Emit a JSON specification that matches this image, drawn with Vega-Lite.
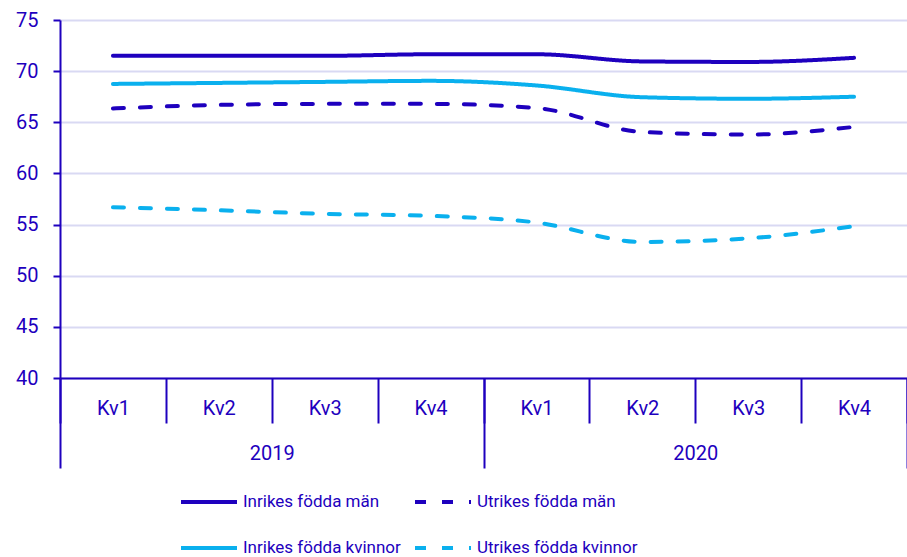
{
  "$schema": "https://vega.github.io/schema/vega-lite/v6.json",
  "width": 847,
  "height": 358,
  "autosize": {"type": "none"},
  "padding": {"left": 60, "top": 20, "right": 0, "bottom": 179},
  "config": {
    "font": "Roboto",
    "view": {"stroke": null},
    "axis": {"labelColor": "#1E00BE", "labelFont": "Roboto", "labelFontSize": 20, "titleColor": "#1E00BE"},
    "legend": {"labelColor": "#1E00BE", "labelFontSize": 17, "labelLimit": 400}
  },
  "data": {
    "values": [
      {"year": "2019", "period": "2019-Kv1", "serie": "Inrikes födda män", "value": 71.5},
      {"year": "2019", "period": "2019-Kv2", "serie": "Inrikes födda män", "value": 71.5},
      {"year": "2019", "period": "2019-Kv3", "serie": "Inrikes födda män", "value": 71.5},
      {"year": "2019", "period": "2019-Kv4", "serie": "Inrikes födda män", "value": 71.65},
      {"year": "2020", "period": "2020-Kv1", "serie": "Inrikes födda män", "value": 71.65},
      {"year": "2020", "period": "2020-Kv2", "serie": "Inrikes födda män", "value": 70.95},
      {"year": "2020", "period": "2020-Kv3", "serie": "Inrikes födda män", "value": 70.9},
      {"year": "2020", "period": "2020-Kv4", "serie": "Inrikes födda män", "value": 71.3},
      {"year": "2019", "period": "2019-Kv1", "serie": "Utrikes födda män", "value": 66.35},
      {"year": "2019", "period": "2019-Kv2", "serie": "Utrikes födda män", "value": 66.7},
      {"year": "2019", "period": "2019-Kv3", "serie": "Utrikes födda män", "value": 66.8},
      {"year": "2019", "period": "2019-Kv4", "serie": "Utrikes födda män", "value": 66.8},
      {"year": "2020", "period": "2020-Kv1", "serie": "Utrikes födda män", "value": 66.4},
      {"year": "2020", "period": "2020-Kv2", "serie": "Utrikes födda män", "value": 64.05},
      {"year": "2020", "period": "2020-Kv3", "serie": "Utrikes födda män", "value": 63.8},
      {"year": "2020", "period": "2020-Kv4", "serie": "Utrikes födda män", "value": 64.55},
      {"year": "2019", "period": "2019-Kv1", "serie": "Inrikes födda kvinnor", "value": 68.75},
      {"year": "2019", "period": "2019-Kv2", "serie": "Inrikes födda kvinnor", "value": 68.85},
      {"year": "2019", "period": "2019-Kv3", "serie": "Inrikes födda kvinnor", "value": 68.95},
      {"year": "2019", "period": "2019-Kv4", "serie": "Inrikes födda kvinnor", "value": 69.05},
      {"year": "2020", "period": "2020-Kv1", "serie": "Inrikes födda kvinnor", "value": 68.6},
      {"year": "2020", "period": "2020-Kv2", "serie": "Inrikes födda kvinnor", "value": 67.45},
      {"year": "2020", "period": "2020-Kv3", "serie": "Inrikes födda kvinnor", "value": 67.3},
      {"year": "2020", "period": "2020-Kv4", "serie": "Inrikes födda kvinnor", "value": 67.5},
      {"year": "2019", "period": "2019-Kv1", "serie": "Utrikes födda kvinnor", "value": 56.7},
      {"year": "2019", "period": "2019-Kv2", "serie": "Utrikes födda kvinnor", "value": 56.4},
      {"year": "2019", "period": "2019-Kv3", "serie": "Utrikes födda kvinnor", "value": 56.05},
      {"year": "2019", "period": "2019-Kv4", "serie": "Utrikes födda kvinnor", "value": 55.85},
      {"year": "2020", "period": "2020-Kv1", "serie": "Utrikes födda kvinnor", "value": 55.2},
      {"year": "2020", "period": "2020-Kv2", "serie": "Utrikes födda kvinnor", "value": 53.3},
      {"year": "2020", "period": "2020-Kv3", "serie": "Utrikes födda kvinnor", "value": 53.65},
      {"year": "2020", "period": "2020-Kv4", "serie": "Utrikes födda kvinnor", "value": 54.85}
    ]
  },
  "layer": [
    {
      "mark": {"type": "line", "interpolate": "monotone", "strokeWidth": 4, "strokeCap": "round"},
      "encoding": {
        "x": {
          "field": "period", "type": "ordinal", "sort": null,
          "scale": {"type": "band", "paddingInner": 0, "paddingOuter": 0},
          "axis": {
            "title": null, "grid": false, "labelAngle": 0,
            "labelExpr": "split(datum.value, '-')[1]",
            "tickBand": "extent", "tickSize": 45, "tickWidth": 2, "tickColor": "#1E00BE",
            "domainColor": "#1E00BE", "domainWidth": 2,
            "labelBaseline": "middle", "labelPadding": -15
          }
        },
        "y": {
          "field": "value", "type": "quantitative",
          "scale": {"domain": [40, 75], "nice": false, "zero": false},
          "axis": {
            "title": null, "values": [40, 45, 50, 55, 60, 65, 70, 75],
            "gridColor": "#D9D9F3", "gridWidth": 2,
            "domainColor": "#1E00BE", "domainWidth": 2,
            "tickColor": "#1E00BE", "tickWidth": 2, "tickSize": 7,
            "labelPadding": 15
          }
        },
        "color": {
          "field": "serie", "type": "nominal",
          "scale": {
            "domain": ["Inrikes födda män", "Inrikes födda kvinnor", "Utrikes födda män", "Utrikes födda kvinnor"],
            "range": ["#1E00BE", "#0AB0EE", "#1E00BE", "#0AB0EE"]
          },
          "legend": {
            "title": null, "orient": "none", "legendX": 119, "legendY": 452, "columns": 2,
            "symbolType": "stroke", "symbolSize": 3136, "symbolStrokeWidth": 4,
            "labelOffset": 4, "columnPadding": 6, "rowPadding": 8, "labelFontSize": 17, "labelColor": "#1E00BE", "labelLimit": 400
          }
        },
        "strokeDash": {
          "field": "serie", "type": "nominal",
          "scale": {
            "domain": ["Inrikes födda män", "Inrikes födda kvinnor", "Utrikes födda män", "Utrikes födda kvinnor"],
            "range": [[1, 0], [1, 0], [11, 16], [11, 16]]
          },
          "legend": {
            "title": null, "orient": "none", "legendX": 119, "legendY": 452, "columns": 2,
            "symbolType": "stroke", "symbolSize": 3136, "symbolStrokeWidth": 4,
            "labelOffset": 4, "columnPadding": 6, "rowPadding": 8, "labelFontSize": 17, "labelColor": "#1E00BE", "labelLimit": 400
          }
        }
      }
    },
    {
      "mark": {"type": "point", "opacity": 0},
      "encoding": {
        "x": {
          "field": "year", "type": "ordinal",
          "scale": {"type": "band", "paddingInner": 0, "paddingOuter": 0},
          "axis": {
            "title": null, "grid": false, "labelAngle": 0, "orient": "bottom", "offset": 0,
            "domain": false, "tickBand": "extent", "tickSize": 90, "tickWidth": 2, "tickColor": "#1E00BE",
            "labelBaseline": "middle", "labelPadding": -15
          }
        },
        "y": {"field": "value", "type": "quantitative"}
      }
    }
  ],
  "resolve": {"scale": {"x": "independent"}, "axis": {"x": "independent"}}
}
